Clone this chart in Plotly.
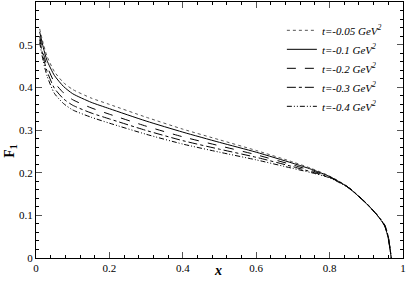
"""F1 versus x for several momentum transfers t."""

import plotly.graph_objects as go

# x grid shared by every curve
x_vals = [0.01, 0.02, 0.03, 0.05, 0.075, 0.1, 0.15, 0.2, 0.3, 0.4, 0.5,
          0.6, 0.7, 0.75, 0.8, 0.85, 0.9, 0.93, 0.95, 0.96, 0.968]

# F1, one list per t value
f1_t005 = [0.537, 0.502, 0.473, 0.437, 0.411, 0.395, 0.375, 0.360, 0.330, 0.302, 0.277,
           0.252, 0.225, 0.210, 0.192, 0.167, 0.129, 0.101, 0.077, 0.050, 0.0]
f1_t01 = [0.530, 0.493, 0.463, 0.428, 0.402, 0.385, 0.365, 0.350, 0.321, 0.295, 0.271,
          0.248, 0.222, 0.208, 0.191, 0.166, 0.128, 0.100, 0.075, 0.045, 0.0]
f1_t02 = [0.520, 0.480, 0.450, 0.412, 0.387, 0.371, 0.352, 0.337, 0.309, 0.284, 0.263,
          0.242, 0.218, 0.205, 0.190, 0.166, 0.128, 0.100, 0.076, 0.045, 0.0]
f1_t03 = [0.512, 0.470, 0.438, 0.398, 0.373, 0.358, 0.340, 0.326, 0.299, 0.275, 0.255,
          0.236, 0.214, 0.202, 0.189, 0.166, 0.128, 0.100, 0.077, 0.048, 0.0]
f1_t04 = [0.505, 0.460, 0.427, 0.386, 0.362, 0.347, 0.330, 0.316, 0.290, 0.267, 0.248,
          0.230, 0.210, 0.200, 0.188, 0.165, 0.128, 0.100, 0.078, 0.050, 0.0]

labels = ["-0.05", "-0.1", "-0.2", "-0.3", "-0.4"]
series = [f1_t005, f1_t01, f1_t02, f1_t03, f1_t04]
dashes = ["dot", "solid", "dash", "dashdot", "5px,2px,1px,2px,1px,2px"]
colors = ["#555555", "black", "black", "black", "black"]

x_ticks = [0, 0.2, 0.4, 0.6, 0.8, 1]
x_tick_text = ["0", "0.2", "0.4", "0.6", "0.8", "1"]
y_ticks = [0, 0.1, 0.2, 0.3, 0.4, 0.5]
y_tick_text = ["0", "0.1", "0.2", "0.3", "0.4", "0.5"]

FONT = "Times New Roman, Liberation Serif, serif"

fig = go.Figure()
for lab, ys, dash, col in zip(labels, series, dashes, colors):
    fig.add_trace(go.Scatter(
        x=x_vals, y=ys, mode="lines",
        line=dict(color=col, width=1, dash=dash, shape="spline", smoothing=0.6),
        name=f"<i>t={lab} GeV<sup>2</sup></i>",
    ))

axis_common = dict(
    showline=True, linecolor="black", linewidth=1, mirror="allticks",
    ticks="inside", ticklen=6, tickcolor="#555555", tickwidth=1,
    showgrid=False, zeroline=False, automargin=False,
    tickfont=dict(family=FONT, size=11, color="black"),
)

fig.update_xaxes(
    range=[0, 1], tickvals=x_ticks, ticktext=x_tick_text,
    minor=dict(dtick=0.04, ticks="inside", ticklen=3, tickcolor="black"),
    **axis_common,
)
fig.update_yaxes(
    range=[0, 0.6], tickvals=y_ticks, ticktext=y_tick_text,
    minor=dict(dtick=0.02, ticks="inside", ticklen=3, tickcolor="black"),
    **axis_common,
)

fig.add_annotation(text="<b><i>x</i></b>", xref="paper", yref="paper",
                   x=0.495, y=-0.05, xanchor="center", yanchor="middle", showarrow=False,
                   font=dict(family=FONT, size=14, color="black"))
fig.add_annotation(text="<b>F<sub>1</sub></b>", xref="paper", yref="paper",
                   x=-0.07, y=0.42, xanchor="center", yanchor="middle", showarrow=False,
                   textangle=-90, font=dict(family=FONT, size=14, color="black"))

fig.update_layout(
    width=407, height=281,
    margin=dict(l=36, r=4, t=2, b=23, autoexpand=False),
    plot_bgcolor="white", paper_bgcolor="white",
    font=dict(family=FONT),
    showlegend=True,
    legend=dict(
        x=0.67, y=0.946, xanchor="left", yanchor="top",
        bgcolor="rgba(0,0,0,0)", itemwidth=30,
        font=dict(family=FONT, size=11, color="black"),
        tracegroupgap=0,
    ),
)

# drop the default page margin so the figure sits at the window's corner
fig.write_html("out.html", config={"displayModeBar": False},
               post_script="document.body.style.margin='0';")
